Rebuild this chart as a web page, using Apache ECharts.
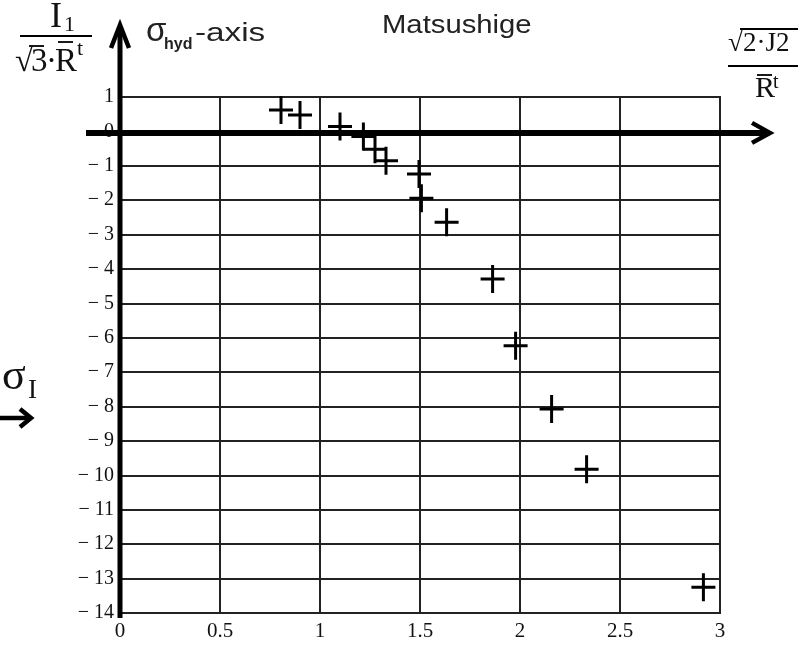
<!DOCTYPE html>
<html>
<head>
<meta charset="utf-8">
<script src="https://cdn.jsdelivr.net/npm/echarts@6/dist/echarts.min.js"></script>
<style>
html,body{margin:0;padding:0;background:#fff;}
#c{width:798px;height:645px;}
</style>
</head>
<body>
<div id="c"></div>
<script>
// x: sqrt(2*J2)/R^t , y: I1/(sqrt(3)*R^t)
const sqrtJ2 = [0.805, 0.90, 1.10, 1.217, 1.275, 1.33, 1.495, 1.507, 1.633, 1.863, 1.978, 2.158, 2.333, 2.917];
const I1norm = [0.62, 0.48, 0.14, -0.15, -0.52, -0.85, -1.24, -1.94, -2.64, -4.29, -6.23, -8.07, -9.82, -13.25];
const xMin = 0, xMax = 3, xStep = 0.5;
const yMin = -14, yMax = 1, yStep = 1;
const titleText = 'Matsushige';

const points = sqrtJ2.map((x, i) => [x, I1norm[i]]);
const plusPath = 'path://M10.5,0h3v12.5h10.5v3h-10.5v12.5h-3v-12.5h-10.5v-3h10.5z';
const serif = 'Liberation Serif';
const sans = 'Liberation Sans';

const chart = echarts.init(document.getElementById('c'));
chart.setOption({
  animation: false,
  backgroundColor: '#fff',
  grid: { left: 120, top: 97, width: 600, height: 516, show: true, borderColor: '#222', borderWidth: 2 },
  xAxis: {
    type: 'value', min: xMin, max: xMax, interval: xStep,
    axisLine: { show: false }, axisTick: { show: false },
    splitLine: { show: true, lineStyle: { color: '#222', width: 2 } },
    axisLabel: { color: '#111', fontFamily: serif, fontSize: 21, margin: 8, showMinLabel: true, showMaxLabel: true,
      formatter: v => String(v) }
  },
  yAxis: {
    type: 'value', min: yMin, max: yMax, interval: yStep,
    axisLine: { show: false }, axisTick: { show: false },
    splitLine: { show: true, lineStyle: { color: '#222', width: 2 } },
    axisLabel: { color: '#111', fontFamily: serif, fontSize: 20, margin: 6, showMinLabel: true, showMaxLabel: true,
      formatter: v => v < 0 ? '\u2212 ' + (-v) : String(v) }
  },
  series: [{
    type: 'scatter', data: points, symbol: plusPath, symbolSize: [24, 28], symbolKeepAspect: false,
    itemStyle: { color: '#000', opacity: 1 }, z: 5
  }]
});

const p0 = chart.convertToPixel({ gridIndex: 0 }, [0, 0]);
const pTop = chart.convertToPixel({ gridIndex: 0 }, [0, yMax]);
const pBot = chart.convertToPixel({ gridIndex: 0 }, [0, yMin]);
const pRight = chart.convertToPixel({ gridIndex: 0 }, [xMax, 0]);
const ax = p0[0], ay = p0[1] + 1.5;
const topY = pTop[1] - 73, rightX = pRight[0] + 50;

function txt(x, y, s, size, fam, extra, sx) {
  const el = { type: 'text', x: x, y: y, z: 200,
    style: Object.assign({ text: s, fontSize: size, fontFamily: fam, fill: '#111', align: 'left', verticalAlign: 'middle' }, extra || {}) };
  if (sx) { el.scaleX = sx; el.originX = 0; el.originY = 0; }
  return el;
}
function ln(x1, y1, x2, y2, w) {
  return { type: 'line', z: 150, shape: { x1: x1, y1: y1, x2: x2, y2: y2 }, style: { stroke: '#000', lineWidth: w } };
}
function chev(pts, w) {
  return { type: 'polyline', z: 150, shape: { points: pts }, style: { stroke: '#000', lineWidth: w, fill: null, lineJoin: 'miter' } };
}

chart.setOption({
  graphic: [
    // thick axes with arrows
    ln(ax, pBot[1] + 5, ax, topY + 2, 5),
    chev([[ax - 9, topY + 24], [ax, topY + 1], [ax + 9, topY + 24]], 4.5),
    ln(ax - 34, ay, rightX - 2, ay, 6),
    chev([[rightX - 18, ay - 10], [rightX, ay], [rightX - 18, ay + 10]], 4.5),
    // title
    txt(382, 26, titleText, 25, sans, { fill: '#222' }, 1.17),
    // sigma_hyd -axis
    txt(146, 32, '\u03c3', 33, sans, { fill: '#222' }),
    txt(164, 45, 'hyd', 16, sans, { fill: '#222', fontWeight: 'bold' }),
    txt(195, 34, '-axis', 25, sans, { fill: '#222' }, 1.33),
    // top-left fraction I1 / (sqrt3 * R^t)
    txt(50, 18, 'I', 36, serif),
    txt(64, 25, '1', 22, serif),
    ln(20, 36, 92, 36, 2),
    txt(15, 62, '\u221a', 33, serif),
    ln(29, 46, 44, 46, 1.8),
    txt(31, 62, '3', 33, serif),
    txt(46, 62, '\u00b7', 33, serif),
    txt(55, 62, 'R', 33, serif),
    ln(58, 42, 73, 42, 1.8),
    txt(77, 49, 't', 22, serif),
    // top-right fraction sqrt(2*J2) / R^t
    txt(728, 44, '\u221a', 27, serif),
    ln(740, 29, 798, 29, 1.8),
    txt(743, 44, '2\u00b7J2', 27, serif),
    ln(728, 66, 798, 66, 2),
    txt(755, 89, 'R', 30, serif),
    ln(757, 75, 772, 75, 1.8),
    txt(773, 83, 't', 20, serif),
    // sigma_I arrow
    txt(2, 377, '\u03c3', 44, serif),
    txt(28, 391, 'I', 27, serif),
    ln(0, 418, 30, 418, 4.5),
    chev([[20, 409], [31, 418], [20, 427]], 4.5)
  ]
});
</script>
</body>
</html>
